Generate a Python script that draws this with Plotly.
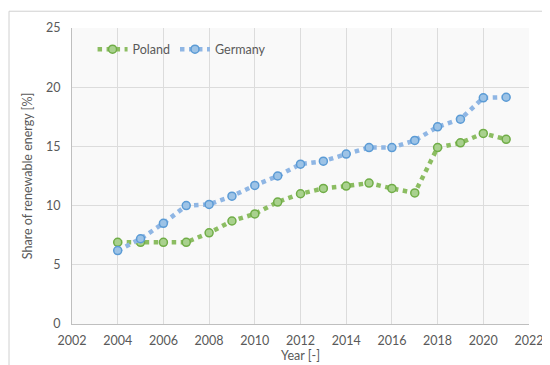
import plotly.graph_objects as go

years = list(range(2004, 2022))
poland = [6.9, 6.9, 6.9, 6.9, 7.7, 8.7, 9.3, 10.3, 11.0, 11.45, 11.65, 11.9, 11.45, 11.07, 14.9, 15.3, 16.1, 15.6]
germany = [6.2, 7.2, 8.5, 10.0, 10.1, 10.8, 11.7, 12.5, 13.5, 13.75, 14.35, 14.9, 14.9, 15.5, 16.65, 17.3, 19.1, 19.15]
x_ticks = list(range(2002, 2023, 2))
y_ticks = [0, 5, 10, 15, 20, 25]

font = dict(family="Lato, Open Sans, sans-serif", size=12.5, color="#595959")

fig = go.Figure()
fig.add_trace(go.Scatter(
    x=years, y=poland, name="Poland", mode="lines+markers",
    line=dict(color="#8cbd62", width=4.5, dash="dot"),
    marker=dict(symbol="circle", size=8, color="#a9d18e", line=dict(color="#70ad47", width=1.5)),
))
fig.add_trace(go.Scatter(
    x=years, y=germany, name="Germany", mode="lines+markers",
    line=dict(color="#8fb6e4", width=4.5, dash="dot"),
    marker=dict(symbol="circle", size=8, color="#9dc3e6", line=dict(color="#5b9bd5", width=1.5)),
))

L, R, T, B = 64, 29, 18, 47
W, H = 550, 365
pw, ph = W - L - R, H - T - B

fig.update_layout(
    width=W, height=H,
    margin=dict(l=L, r=R, t=T, b=B),
    paper_bgcolor="white",
    plot_bgcolor="#f9f9f9",
    font=font,
    showlegend=True,
    legend=dict(orientation="h", x=0.045, y=0.927, xanchor="left", yanchor="middle",
                bgcolor="rgba(0,0,0,0)", font=dict(size=12.5, color="#595959")),
    xaxis=dict(
        range=[2002, 2022], tickvals=x_ticks, ticktext=[str(v) for v in x_ticks],
        showgrid=True, gridcolor="#dcdcdc", gridwidth=1,
        showline=True, linecolor="#bfbfbf", linewidth=1, zeroline=False,
        ticks="outside", ticklen=5, tickcolor="rgba(0,0,0,0)",
        title=dict(text="Year [-]", standoff=4, font=dict(size=12.5, color="#595959")),
    ),
    yaxis=dict(
        range=[0, 25], tickvals=y_ticks,
        showgrid=True, gridcolor="#dcdcdc", gridwidth=1,
        showline=True, linecolor="#bfbfbf", linewidth=1, zeroline=False,
        ticks="outside", ticklen=8, tickcolor="rgba(0,0,0,0)",
        title=dict(text="Share of renewable energy [%]", standoff=10, font=dict(size=12.5, color="#595959")),
    ),
    shapes=[dict(
        type="rect", xref="paper", yref="paper",
        x0=(1 - L) / pw, x1=(W - 2 - L) / pw,
        y0=-(H - 2 - T - ph) / ph, y1=(T - 1) / ph + 1,
        line=dict(color="#d0d0d0", width=1), fillcolor="rgba(0,0,0,0)", layer="below",
    )],
)

fig.write_html("out.html")
